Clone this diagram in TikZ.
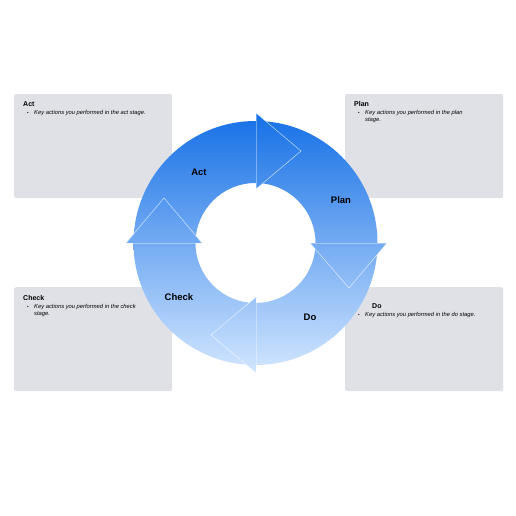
\documentclass[tikz,border=0pt]{standalone}
\usepackage{fontspec}
\setmainfont{Liberation Sans}
\definecolor{boxgray}{HTML}{DFE1E6}
\definecolor{ctop}{HTML}{1570E6}
\definecolor{cmid}{HTML}{66AAFC}
\definecolor{cbot}{HTML}{D2E6FF}
\begin{document}
\begin{tikzpicture}[x=1pt,y=-1pt,
  box/.style={fill=boxgray, rounded corners=2pt, inner sep=0pt, minimum width=158pt, minimum height=104pt, anchor=north west},
  boxtitle/.style={font=\fontsize{7}{8}\selectfont\bfseries, inner sep=0pt, anchor=base west},
  bul/.style={font=\fontsize{4.5}{6}\selectfont, inner sep=0pt, anchor=base west},
  bultext/.style={font=\fontsize{5.8}{7}\selectfont\itshape, inner sep=0pt, anchor=north west, align=left},
  ringlabel/.style={font=\fontsize{9.5}{10}\selectfont\bfseries, inner sep=0pt},
  gradfill/.style={top color=ctop, middle color=cmid, bottom color=cbot},
  headline/.style={draw=white, line width=0.5pt, draw opacity=0.7}
]
\useasboundingbox (0,0) rectangle (516,516);
\fill[white] (0,0) rectangle (516,516);

% boxes
\node[box] (actbox) at (14,94) {};
\node[box] (planbox) at (345,94) {};
\node[box] (checkbox) at (14,287) {};
\node[box] (dobox) at (345,287) {};

\node[boxtitle] (acttitle) at (23,106.5) {Act};
\node[bul] (actbul) at (27,114.5) {\textbullet};
\node[bultext] (acttext) at (34,110.5) {Key actions you performed in the act stage.};

\node[boxtitle] (plantitle) at (354,106.5) {Plan};
\node[bul] (planbul) at (358,114.5) {\textbullet};
\node[bultext] (plantext) at (365,110.5) {Key actions you performed in the plan\\stage.};

\node[boxtitle] (checktitle) at (23,300.5) {Check};
\node[bul] (checkbul) at (27,308.5) {\textbullet};
\node[bultext] (checktext) at (34,304.5) {Key actions you performed in the check\\stage.};

\node[boxtitle] (dotitle) at (372,308.5) {Do};
\node[bul] (dobul) at (358,316.5) {\textbullet};
\node[bultext] (dotext) at (365,312.5) {Key actions you performed in the do stage.};

% ring
\begin{scope}[even odd rule]
  \clip (255.5,243) circle (122) (255.5,243) circle (60);
  \shade[gradfill] (120,113) rectangle (392,373);
\end{scope}

% arrow heads
\foreach \a/\b/\c in {{(256,113)}/{(301,151)}/{(256,189)},
                      {(387,243)}/{(349,288)}/{(310,243)},
                      {(256,373)}/{(211,335)}/{(256,297)},
                      {(126,243)}/{(164,198)}/{(202,243)}}{
  \begin{scope}
    \clip \a -- \b -- \c -- cycle;
    \shade[gradfill] (120,113) rectangle (392,373);
  \end{scope}
  \draw[headline] \a -- \b -- \c;
  \draw[draw=white, line width=0.4pt, draw opacity=0.35] \c -- \a;
}

% ring labels
\node[ringlabel] (actlabel) at (199,172) {Act};
\node[ringlabel] (planlabel) at (341,200) {Plan};
\node[ringlabel] (dolabel) at (310,317) {Do};
\node[ringlabel] (checklabel) at (179,297) {Check};
\end{tikzpicture}
\end{document}
